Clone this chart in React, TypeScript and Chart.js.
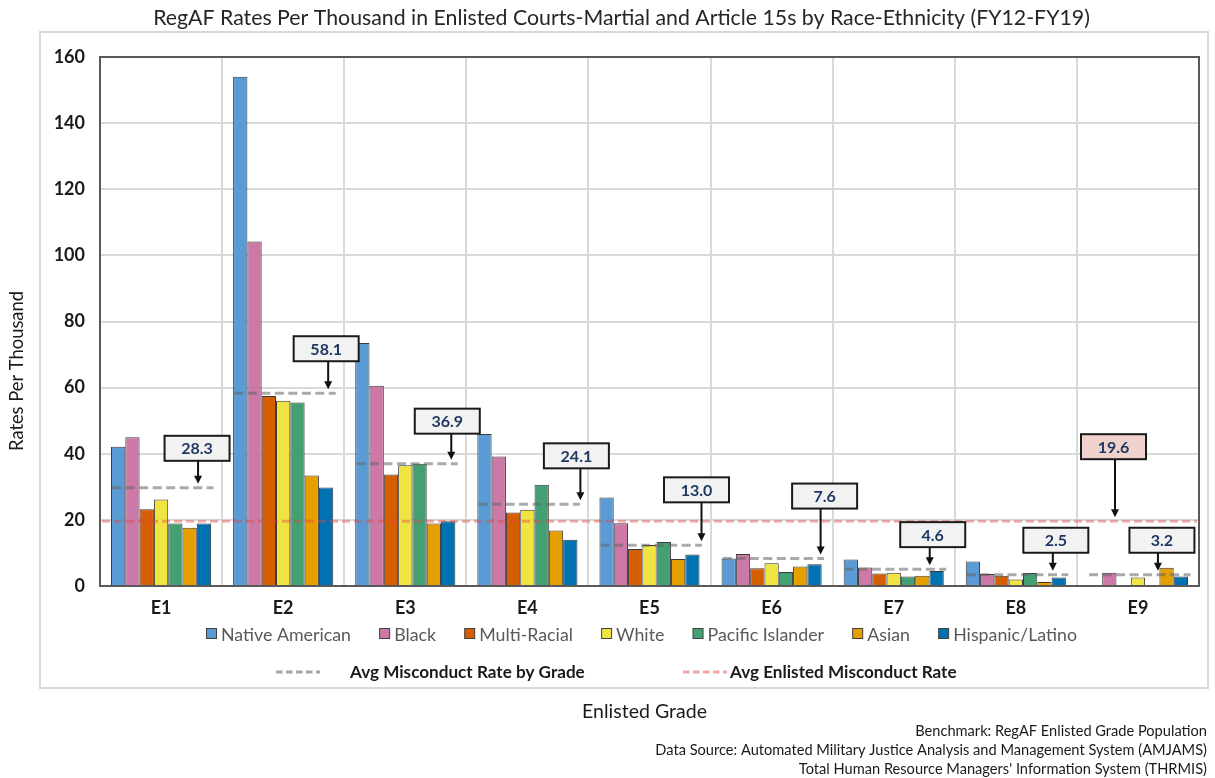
import React, { useEffect, useRef } from "react";
import { Chart, registerables } from "chart.js";

Chart.register(...registerables);

// ---------- data ----------
const grades = ["E1", "E2", "E3", "E4", "E5", "E6", "E7", "E8", "E9"];
const seriesNames = ["Native American", "Black", "Multi-Racial", "White", "Pacific Islander", "Asian", "Hispanic/Latino"];
const nativeAmerican = [42.1, 154.0, 73.5, 46.0, 26.8, 8.3, 8.0, 7.4, null];
const black = [45.0, 104.2, 60.6, 39.2, 19.0, 9.7, 5.6, 3.6, 4.0];
const multiRacial = [23.2, 57.5, 33.7, 22.2, 11.2, 5.4, 3.8, 3.1, null];
const white = [26.2, 56.0, 36.5, 23.1, 12.4, 6.9, 4.0, 2.0, 2.6];
const pacificIslander = [18.9, 55.5, 37.0, 30.6, 13.3, 4.2, 2.9, 3.9, null];
const asian = [17.6, 33.4, 18.9, 16.8, 8.2, 5.9, 3.1, 1.2, 5.5];
const hispanicLatino = [18.9, 29.8, 19.6, 14.0, 9.5, 6.6, 4.5, 2.6, 2.9];
const avgByGradeLabels = ["28.3", "58.1", "36.9", "24.1", "13.0", "7.6", "4.6", "2.5", "3.2"];
const avgByGradeLevels = [29.7, 58.3, 37.0, 24.7, 12.3, 8.3, 5.1, 3.4, 3.4];
const avgEnlistedLabel = "19.6";
const avgEnlistedLevel = 19.6;
const yTicks = [0, 20, 40, 60, 80, 100, 120, 140, 160];

const titleText = "RegAF Rates Per Thousand in Enlisted Courts-Martial and Article 15s by Race-Ethnicity (FY12-FY19)";
const yTitleText = "Rates Per Thousand";
const xTitleText = "Enlisted Grade";
const avgGradeLegend = "Avg Misconduct Rate by Grade";
const avgEnlistedLegend = "Avg Enlisted Misconduct Rate";
const footerLines = [
  "Benchmark: RegAF Enlisted Grade Population",
  "Data Source: Automated Military Justice Analysis and Management System (AMJAMS)",
  "Total Human Resource Managers' Information System (THRMIS)",
];

// ---------- styles / layout ----------
const FONT = "Lato, 'Open Sans', sans-serif";
const colors = ["#5b9bd5", "#cc79a7", "#d55e00", "#f0e442", "#449f73", "#e69f00", "#0072b2"];
const seriesValues = [nativeAmerican, black, multiRacial, white, pacificIslander, asian, hispanicLatino];
// annotation layout: arrow x offset from category centre (px), box centre offset (px), gap box-bottom -> line (px)
const annotLayout = [
  { arrow: 37, box: 36, gap: 27 },
  { arrow: 45, box: 43, gap: 32 },
  { arrow: 46, box: 42, gap: 30 },
  { arrow: 53, box: 49, gap: 36 },
  { arrow: 52, box: 47, gap: 43 },
  { arrow: 49, box: 53, gap: 50 },
  { arrow: 36, box: 39, gap: 22 },
  { arrow: 37, box: 40, gap: 22 },
  { arrow: 20, box: 24, gap: 22 },
];
const redAnnot = { x: 1115, box: 1113.5, gap: 62 };

function fitSize(ctx: CanvasRenderingContext2D, text: string, weight: string, target: number) {
  ctx.font = `${weight} 100px ${FONT}`;
  return (100 * target) / ctx.measureText(text).width;
}

function drawArrowBox(
  ctx: CanvasRenderingContext2D,
  boxCx: number,
  arrowX: number,
  lineY: number,
  gap: number,
  text: string,
  fill: string
) {
  const bw = 65;
  const bh = 25;
  const bottom = lineY - gap;
  const top = bottom - bh;
  const tip = lineY - 4;
  ctx.save();
  ctx.strokeStyle = "#111";
  ctx.lineWidth = 2;
  ctx.beginPath();
  ctx.moveTo(arrowX, bottom);
  ctx.lineTo(arrowX, tip - 6);
  ctx.stroke();
  ctx.fillStyle = "#111";
  ctx.beginPath();
  ctx.moveTo(arrowX - 4, tip - 8);
  ctx.lineTo(arrowX + 4, tip - 8);
  ctx.lineTo(arrowX, tip);
  ctx.closePath();
  ctx.fill();
  ctx.fillStyle = fill;
  ctx.fillRect(boxCx - bw / 2, top, bw, bh);
  ctx.strokeStyle = "#1a1a1a";
  ctx.lineWidth = 2;
  ctx.strokeRect(boxCx - bw / 2, top, bw, bh);
  ctx.fillStyle = "#1f3864";
  ctx.font = `bold 16px ${FONT}`;
  ctx.textAlign = "center";
  ctx.textBaseline = "middle";
  ctx.fillText(text, boxCx, top + bh / 2 + 1);
  ctx.restore();
}

const decorPlugin = {
  id: "decor",
  beforeDraw(chart: any) {
    const ctx: CanvasRenderingContext2D = chart.ctx;
    ctx.save();
    ctx.fillStyle = "#fff";
    ctx.fillRect(0, 0, chart.width, chart.height);
    ctx.strokeStyle = "#d9d9d9";
    ctx.lineWidth = 2;
    ctx.strokeRect(40, 32, 1168, 656);
    ctx.restore();
  },
  afterDatasetsDraw(chart: any) {
    const ctx: CanvasRenderingContext2D = chart.ctx;
    const xs = chart.scales.x;
    const ys = chart.scales.y;
    const area = chart.chartArea;
    const cw = (area.right - area.left) / grades.length;
    ctx.save();
    ctx.strokeStyle = "#595959";
    ctx.lineWidth = 2;
    ctx.strokeRect(area.left, area.top, area.right - area.left, area.bottom - area.top);
    ctx.setLineDash([8, 4]);
    ctx.lineWidth = 3;
    ctx.strokeStyle = "rgba(222, 70, 70, 0.42)";
    const ry = ys.getPixelForValue(avgEnlistedLevel);
    ctx.beginPath();
    ctx.moveTo(area.left + 2, ry);
    ctx.lineTo(area.right - 2, ry);
    ctx.stroke();
    ctx.setLineDash([9, 4.5]);
    ctx.strokeStyle = "rgba(100, 100, 100, 0.55)";
    avgByGradeLevels.forEach((v, i) => {
      const c = xs.getPixelForValue(i);
      const y = ys.getPixelForValue(v);
      ctx.beginPath();
      ctx.moveTo(c - 0.4 * cw, y);
      ctx.lineTo(c + 0.43 * cw, y);
      ctx.stroke();
    });
    ctx.setLineDash([]);
    ctx.restore();
    avgByGradeLevels.forEach((v, i) => {
      const c = xs.getPixelForValue(i);
      const y = ys.getPixelForValue(v);
      const L = annotLayout[i];
      drawArrowBox(ctx, c + L.box, c + L.arrow, y, L.gap, avgByGradeLabels[i], "#f2f2f2");
    });
    drawArrowBox(ctx, redAnnot.box, redAnnot.x, ry, redAnnot.gap, avgEnlistedLabel, "#f0d2cc");
  },
  afterDraw(chart: any) {
    const ctx: CanvasRenderingContext2D = chart.ctx;
    ctx.save();
    ctx.textBaseline = "middle";
    let s = fitSize(ctx, titleText, "normal", 937);
    ctx.font = `normal ${s}px ${FONT}`;
    ctx.fillStyle = "#262626";
    ctx.textAlign = "center";
    ctx.fillText(titleText, 621.5, 18);
    s = fitSize(ctx, yTitleText, "normal", 160);
    ctx.save();
    ctx.translate(17, 371);
    ctx.rotate(-Math.PI / 2);
    ctx.font = `normal ${s}px ${FONT}`;
    ctx.fillStyle = "#1a1a1a";
    ctx.fillText(yTitleText, 0, 0);
    ctx.restore();
    // legend row 1
    s = fitSize(ctx, seriesNames[0], "normal", 130);
    ctx.font = `normal ${s}px ${FONT}`;
    const widths = seriesNames.map((n) => 15 + ctx.measureText(n).width);
    const sum = widths.reduce((a, b) => a + b, 0);
    const gap = (871 - sum) / (seriesNames.length - 1);
    let x = 206;
    const ly = 634;
    seriesNames.forEach((n, i) => {
      ctx.fillStyle = colors[i];
      ctx.fillRect(x + 0.5, ly - 5.5, 10, 10);
      ctx.strokeStyle = "#404040";
      ctx.lineWidth = 1;
      ctx.strokeRect(x + 0.5, ly - 5.5, 10, 10);
      ctx.fillStyle = "#595959";
      ctx.textAlign = "left";
      ctx.fillText(n, x + 15, ly + 1);
      x += widths[i] + gap;
    });
    // legend row 2
    const l2 = 672;
    ctx.lineWidth = 3;
    ctx.setLineDash([6.5, 3.5]);
    ctx.strokeStyle = "#a6a6a6";
    ctx.beginPath();
    ctx.moveTo(276, l2);
    ctx.lineTo(320, l2);
    ctx.stroke();
    ctx.strokeStyle = "#eda6a6";
    ctx.beginPath();
    ctx.moveTo(683, l2);
    ctx.lineTo(727, l2);
    ctx.stroke();
    ctx.setLineDash([]);
    s = fitSize(ctx, avgGradeLegend, "bold", 235);
    ctx.font = `bold ${s}px ${FONT}`;
    ctx.fillStyle = "#1a1a1a";
    ctx.fillText(avgGradeLegend, 350, l2);
    ctx.fillText(avgEnlistedLegend, 730, l2);
    s = fitSize(ctx, xTitleText, "normal", 125);
    ctx.font = `normal ${s}px ${FONT}`;
    ctx.textAlign = "center";
    ctx.fillText(xTitleText, 644.5, 712);
    s = fitSize(ctx, footerLines[1], "normal", 552);
    ctx.font = `normal ${s}px ${FONT}`;
    ctx.textAlign = "right";
    footerLines.forEach((t, i) => ctx.fillText(t, 1207, 731 + i * 19));
    ctx.restore();
  },
};

export default function App() {
  const ref = useRef<HTMLCanvasElement>(null);
  useEffect(() => {
    const chart = new Chart(ref.current as HTMLCanvasElement, {
      type: "bar",
      data: {
        labels: grades,
        datasets: seriesNames.map((name, i) => ({
          label: name,
          data: seriesValues[i] as any,
          backgroundColor: colors[i],
          borderColor: "#3a3a3a",
          borderWidth: 1,
          categoryPercentage: 0.82,
          barPercentage: 1,
        })),
      },
      options: {
        responsive: false,
        animation: false,
        devicePixelRatio: 1,
        layout: { padding: { left: 40, top: 57, right: 16, bottom: 152 } },
        plugins: {
          legend: { display: false },
          title: { display: false },
          tooltip: { enabled: false },
        },
        scales: {
          x: {
            grid: { color: "#d9d9d9", lineWidth: 2, drawTicks: false, offset: true },
            border: { display: false },
            ticks: { font: { family: FONT, size: 18, weight: "bold" }, color: "#1a1a1a", padding: 11 },
            afterFit: (s: any) => {
              s.height = 40;
            },
          },
          y: {
            min: 0,
            max: 160,
            grid: { color: "#d9d9d9", lineWidth: 2, drawTicks: false },
            border: { display: false },
            ticks: { font: { family: FONT, size: 18, weight: "bold" }, color: "#1a1a1a", padding: 15 },
            afterBuildTicks: (s: any) => {
              s.ticks = yTicks.map((v) => ({ value: v }));
            },
            afterFit: (s: any) => {
              s.width = 60;
            },
          },
        },
      } as any,
      plugins: [decorPlugin],
    });
    return () => chart.destroy();
  }, []);
  return (
    <div style={{ position: "absolute", left: 0, top: 0, width: 1215, height: 778 }}>
      <canvas ref={ref} width={1215} height={778} style={{ display: "block" }} />
    </div>
  );
}
